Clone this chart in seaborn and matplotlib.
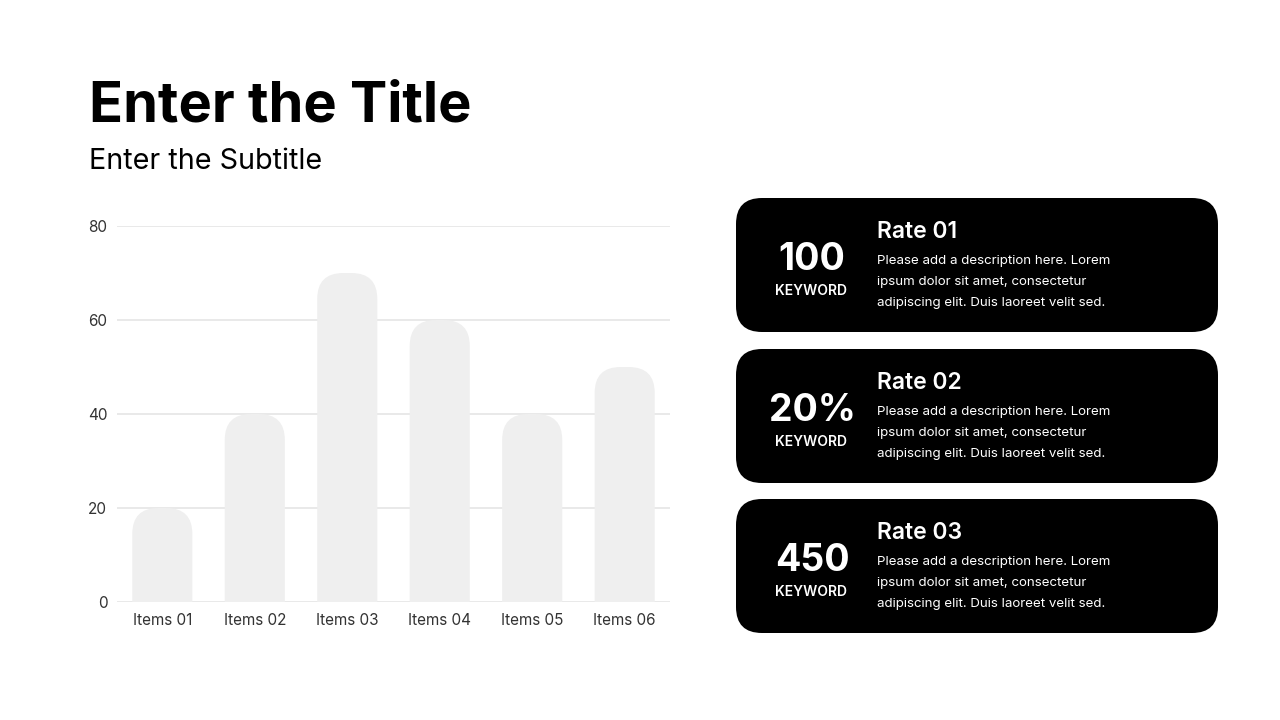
import pandas as pd
import numpy as np
import matplotlib
matplotlib.use("Agg")
import matplotlib.pyplot as plt
from matplotlib.patches import FancyBboxPatch
import seaborn as sns

# chart data
items = ["Items 01", "Items 02", "Items 03", "Items 04", "Items 05", "Items 06"]
values = [20, 40, 70, 60, 40, 50]
y_ticks = [0, 20, 40, 60, 80]

# card texts
card_numbers = ["100", "20%", "450"]
card_keywords = ["KEYWORD", "KEYWORD", "KEYWORD"]
card_titles = ["Rate 01", "Rate 02", "Rate 03"]
desc_lines = ["Please add a description here. Lorem",
              "ipsum dolor sit amet, consectetur",
              "adipiscing elit. Duis laoreet velit sed."]

sns.set_theme(style="whitegrid")
plt.rcParams['font.family'] = ['Inter', 'DejaVu Sans']

W, H = 1280, 720
fig = plt.figure(figsize=(12.8, 7.2), dpi=100)
fig.patch.set_facecolor("white")

# bar chart axes, placed by pixel
x0, x1, y_top, y_bot = 117, 670, 226, 602
ax = fig.add_axes([x0 / W, 1 - y_bot / H, (x1 - x0) / W, (y_bot - y_top) / H])
df = pd.DataFrame({"item": items, "value": values})
sns.barplot(data=df, x="item", y="value", color="#efefef", width=0.65,
            saturation=1, ax=ax, zorder=2)
xlim = (-0.49, 5.49)
ax.set_xlim(*xlim)
ax.set_ylim(0, 80)

# swap plain bars for rounded-top ones
ux = (xlim[1] - xlim[0]) / (x1 - x0)
uy = 80 / (y_bot - y_top)
aspect = uy / ux
r = 26 * ux
for p in list(ax.patches):
    bx, bw, bh = p.get_x(), p.get_width(), p.get_height()
    p.remove()
    ax.add_patch(FancyBboxPatch((bx, -8), bw, bh + 8,
                                boxstyle=f"round,pad=0,rounding_size={r}",
                                mutation_aspect=aspect, fc="#efefef", ec="none",
                                zorder=2, clip_on=True))

ax.set_yticks(y_ticks)
ax.set_xlabel("")
ax.set_ylabel("")
ax.grid(axis="x", visible=False)
ax.grid(axis="y", color="#e3e3e3", linewidth=1.1, zorder=0)
ax.set_axisbelow(True)
for s in ax.spines.values():
    s.set_visible(False)
ax.tick_params(axis="both", length=0, labelsize=11, labelcolor="#333333")
ax.tick_params(axis="y", pad=7)
ax.tick_params(axis="x", pad=8)
ax.set_facecolor("none")

# overlay in pixel coords for titles and cards
ov = fig.add_axes([0, 0, 1, 1], zorder=5)
ov.set_xlim(0, W)
ov.set_ylim(H, 0)
ov.axis("off")
ov.patch.set_alpha(0)

ov.text(89, 121, "Enter the Title", fontsize=40.3, fontweight="bold", color="black", va="baseline")
ov.text(89, 169, "Enter the Subtitle", fontsize=20.7, color="black", va="baseline")

card_tops = [198, 349, 499]
card_h = 134
for i, top in enumerate(card_tops):
    ov.add_patch(FancyBboxPatch((736, top), 482, card_h,
                                boxstyle="round,pad=0,rounding_size=26",
                                fc="black", ec="none"))
    ov.text(812, top + 72, card_numbers[i], fontsize=27, fontweight="bold",
            color="white", ha="center", va="baseline")
    ov.text(811, top + 97, card_keywords[i], fontsize=10, fontweight="semibold",
            color="white", ha="center", va="baseline")
    ov.text(877, top + 40, card_titles[i], fontsize=16.5, fontweight="semibold",
            color="white", va="baseline")
    for j, line in enumerate(desc_lines):
        ov.text(877, top + 66 + 21 * j, line, fontsize=9.6, color="white",
                va="baseline")

fig.savefig("out.png", dpi=100, facecolor="white")
